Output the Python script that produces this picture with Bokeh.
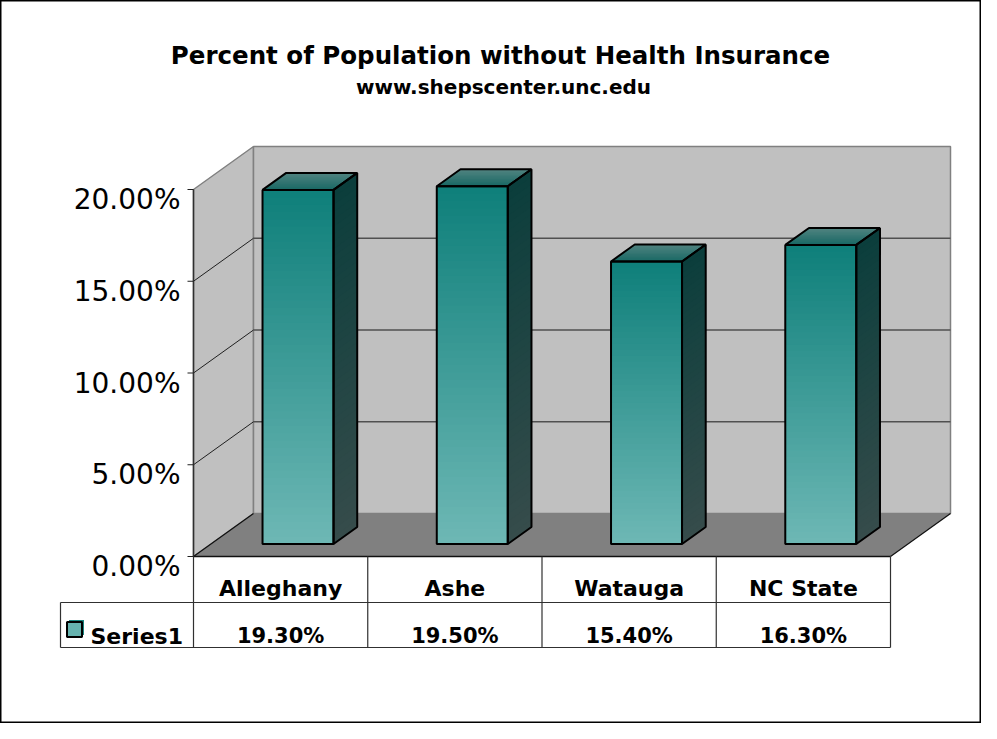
import numpy as np
from bokeh.plotting import figure
from bokeh.models import Range1d
from bokeh.embed import file_html
from bokeh.resources import INLINE
from bokeh.core.properties import value

# ---------------- data ----------------
title_text = "Percent of Population without Health Insurance"
subtitle_text = "www.shepscenter.unc.edu"
categories = ["Alleghany", "Ashe", "Watauga", "NC State"]
values = [19.30, 19.50, 15.40, 16.30]
value_labels = ["19.30%", "19.50%", "15.40%", "16.30%"]
series_name = "Series1"
y_ticks = [0, 5, 10, 15, 20]
y_tick_labels = ["0.00%", "5.00%", "10.00%", "15.00%", "20.00%"]

# ---------------- layout ----------------
W, H = 981, 723
X0_PX, COL_PX = 193.0, 174.25   # x of front-left floor corner, px per category
Y0_PX, PCT_PX = 556.0, 18.35    # y of front floor edge, px per percentage point

def px2x(px):
    return (px - X0_PX) / COL_PX

def py2y(py):
    return (Y0_PX - py) / PCT_PX

n = len(categories)
ymax = y_ticks[-1]
DX = 60.0 / COL_PX          # full depth offset, x
DY = 43.0 / PCT_PX          # full depth offset, y
FB = 0.29                   # depth of bar front faces
BD = 0.395                  # depth of bars
BW = 71.0 / COL_PX          # bar width

FONT = value("DejaVu Sans")

p = figure(width=W, height=H, output_backend="svg", toolbar_location=None,
           x_range=Range1d(px2x(0), px2x(W)),
           y_range=Range1d(py2y(H), py2y(0)),
           min_border=0, x_axis_location=None, y_axis_location=None,
           title=None)
p.grid.visible = False
p.outline_line_color = "black"
p.outline_line_width = 2
p.background_fill_color = "white"
p.border_fill_color = "white"

# ---------------- walls & floor ----------------
p.patch([0, DX, DX, 0], [0, DY, ymax + DY, ymax],
        fill_color="#C0C0C0", line_color="#808080", line_width=1.5)
p.quad(left=DX, right=n + DX, bottom=DY, top=ymax + DY,
       fill_color="#C0C0C0", line_color="#808080", line_width=1.5)
p.patch([0, n, n + DX, DX], [0, 0, DY, DY],
        fill_color="#808080", line_color=None)

inner = [t for t in y_ticks if 0 < t < ymax]
p.segment(x0=[DX] * len(inner), x1=[n + DX] * len(inner),
          y0=[t + DY for t in inner], y1=[t + DY for t in inner],
          line_color="#505050", line_width=1.3)
p.segment(x0=[0] * len(inner), x1=[DX] * len(inner),
          y0=inner, y1=[t + DY for t in inner],
          line_color="#202020", line_width=1)
# floor side edges
p.segment(x0=[0, n], y0=[0, 0], x1=[DX, n + DX], y1=[DY, DY],
          line_color="#101010", line_width=1.2)

# value axis line and ticks
p.segment(x0=[0], y0=[0], x1=[0], y1=[ymax], line_color="#303030", line_width=1.5)
tick_len = 6.0 / COL_PX
p.segment(x0=[-tick_len] * len(y_ticks), x1=[0] * len(y_ticks),
          y0=y_ticks, y1=y_ticks, line_color="#202020", line_width=1.2)
p.text(x=[-13.0 / COL_PX] * len(y_ticks), y=y_ticks, text=y_tick_labels,
       text_font=FONT, text_font_size="28px", text_align="right",
       text_baseline="alphabetic", y_offset=10, text_color="black")

# ---------------- bars with gradients ----------------
def lerp(c0, c1, t):
    c = [int(round(a + (b - a) * t)) for a, b in zip(c0, c1)]
    return "#%02x%02x%02x" % tuple(c)

front_top, front_bot = (14, 127, 122), (110, 184, 181)
side_top, side_bot = (11, 62, 60), (54, 76, 75)
top_front, top_back = (24, 104, 100), (82, 132, 129)

NS = 48
fq = dict(left=[], right=[], top=[], bottom=[], color=[])
sxs, sys_, scol = [], [], []
txs, tys, tcol = [], [], []
outline_fx0, outline_fx1, outline_fyb, outline_fyt = [], [], [], []
o_side_x, o_side_y, o_top_x, o_top_y = [], [], [], []

ox, oy = BD * DX, BD * DY
for i, v in enumerate(values):
    cx = i + 0.5 + FB * DX
    x0, x1 = cx - BW / 2, cx + BW / 2
    yb = FB * DY
    yt = v + FB * DY
    h = yt - yb
    ov = h / NS * 0.6
    for k in range(NS):
        ya = yt - h * k / NS
        yb2 = yt - h * (k + 1) / NS
        t = (k + 0.5) / NS
        ylow = max(yb, yb2 - ov)
        fq["left"].append(x0); fq["right"].append(x1)
        fq["top"].append(ya); fq["bottom"].append(ylow)
        fq["color"].append(lerp(front_top, front_bot, t))
        sxs.append([x1, x1 + ox, x1 + ox, x1])
        sys_.append([ya, ya + oy, ylow + oy, ylow])
        scol.append(lerp(side_top, side_bot, t))
    NT = 12
    for k in range(NT):
        da, db = k / NT, min(1.0, (k + 1.6) / NT)
        txs.append([x0 + da * ox, x1 + da * ox, x1 + db * ox, x0 + db * ox])
        tys.append([yt + da * oy, yt + da * oy, yt + db * oy, yt + db * oy])
        tcol.append(lerp(top_front, top_back, (k + 0.5) / NT))
    outline_fx0.append(x0); outline_fx1.append(x1)
    outline_fyb.append(yb); outline_fyt.append(yt)
    o_side_x.append([x1, x1 + ox, x1 + ox, x1])
    o_side_y.append([yt, yt + oy, yb + oy, yb])
    o_top_x.append([x0, x1, x1 + ox, x0 + ox])
    o_top_y.append([yt, yt, yt + oy, yt + oy])

p.quad(left="left", right="right", top="top", bottom="bottom",
       fill_color="color", line_color=None, source=fq)
p.patches(sxs, sys_, fill_color=scol, line_color=None)
p.patches(txs, tys, fill_color=tcol, line_color=None)
p.patches(o_side_x, o_side_y, fill_color=None, line_color="black", line_width=2)
p.patches(o_top_x, o_top_y, fill_color=None, line_color="black", line_width=2)
p.quad(left=outline_fx0, right=outline_fx1, bottom=outline_fyb, top=outline_fyt,
       fill_color=None, line_color="black", line_width=2)

# ---------------- data table ----------------
r1 = py2y(602)
r2 = py2y(647)
leg_left = px2x(60)
tcolor = "#303030"
p.segment(x0=[0], y0=[0], x1=[n], y1=[0], line_color="#101010", line_width=1.5)
p.segment(x0=[leg_left, leg_left], y0=[r1, r2], x1=[n, n], y1=[r1, r2],
          line_color=tcolor, line_width=1.2)
p.segment(x0=list(range(n + 1)), y0=[0] * (n + 1), x1=list(range(n + 1)), y1=[r2] * (n + 1),
          line_color=tcolor, line_width=1.2)
p.segment(x0=[leg_left], y0=[r1], x1=[leg_left], y1=[r2], line_color=tcolor, line_width=1.2)

centers = [i + 0.5 for i in range(n)]
p.text(x=centers, y=[py2y(587.5)] * n, text=categories, text_font=FONT,
       text_font_style="bold", text_font_size="22px", text_align="center",
       text_baseline="alphabetic", text_color="black")
p.text(x=centers, y=[py2y(635.5)] * n, text=value_labels, text_font=FONT,
       text_font_style="bold", text_font_size="21px", text_align="center",
       text_baseline="alphabetic", text_color="black")

# legend key
p.rect(x=[px2x(76)], y=[py2y(627)], width=15, height=15, width_units="screen",
       height_units="screen", fill_color="#1a8580", line_color=None)
p.rect(x=[px2x(74)], y=[py2y(629)], width=15, height=15, width_units="screen",
       height_units="screen", fill_color="#66b3af", line_color="black", line_width=2)
p.text(x=[px2x(90)], y=[py2y(635.5)], text=[series_name], text_font=FONT,
       text_font_style="bold", text_font_size="22px", text_align="left",
       text_baseline="alphabetic", text_color="black")

# ---------------- titles ----------------
p.text(x=[px2x(500)], y=[py2y(55)], text=[title_text], text_font=FONT,
       text_font_style="bold", text_font_size="24.5px", text_align="center",
       text_baseline="alphabetic", text_color="black")
p.text(x=[px2x(503)], y=[py2y(86)], text=[subtitle_text], text_font=FONT,
       text_font_style="bold", text_font_size="20px", text_align="center",
       text_baseline="alphabetic", text_color="black")

open("out.html", "w").write(file_html(p, INLINE))
